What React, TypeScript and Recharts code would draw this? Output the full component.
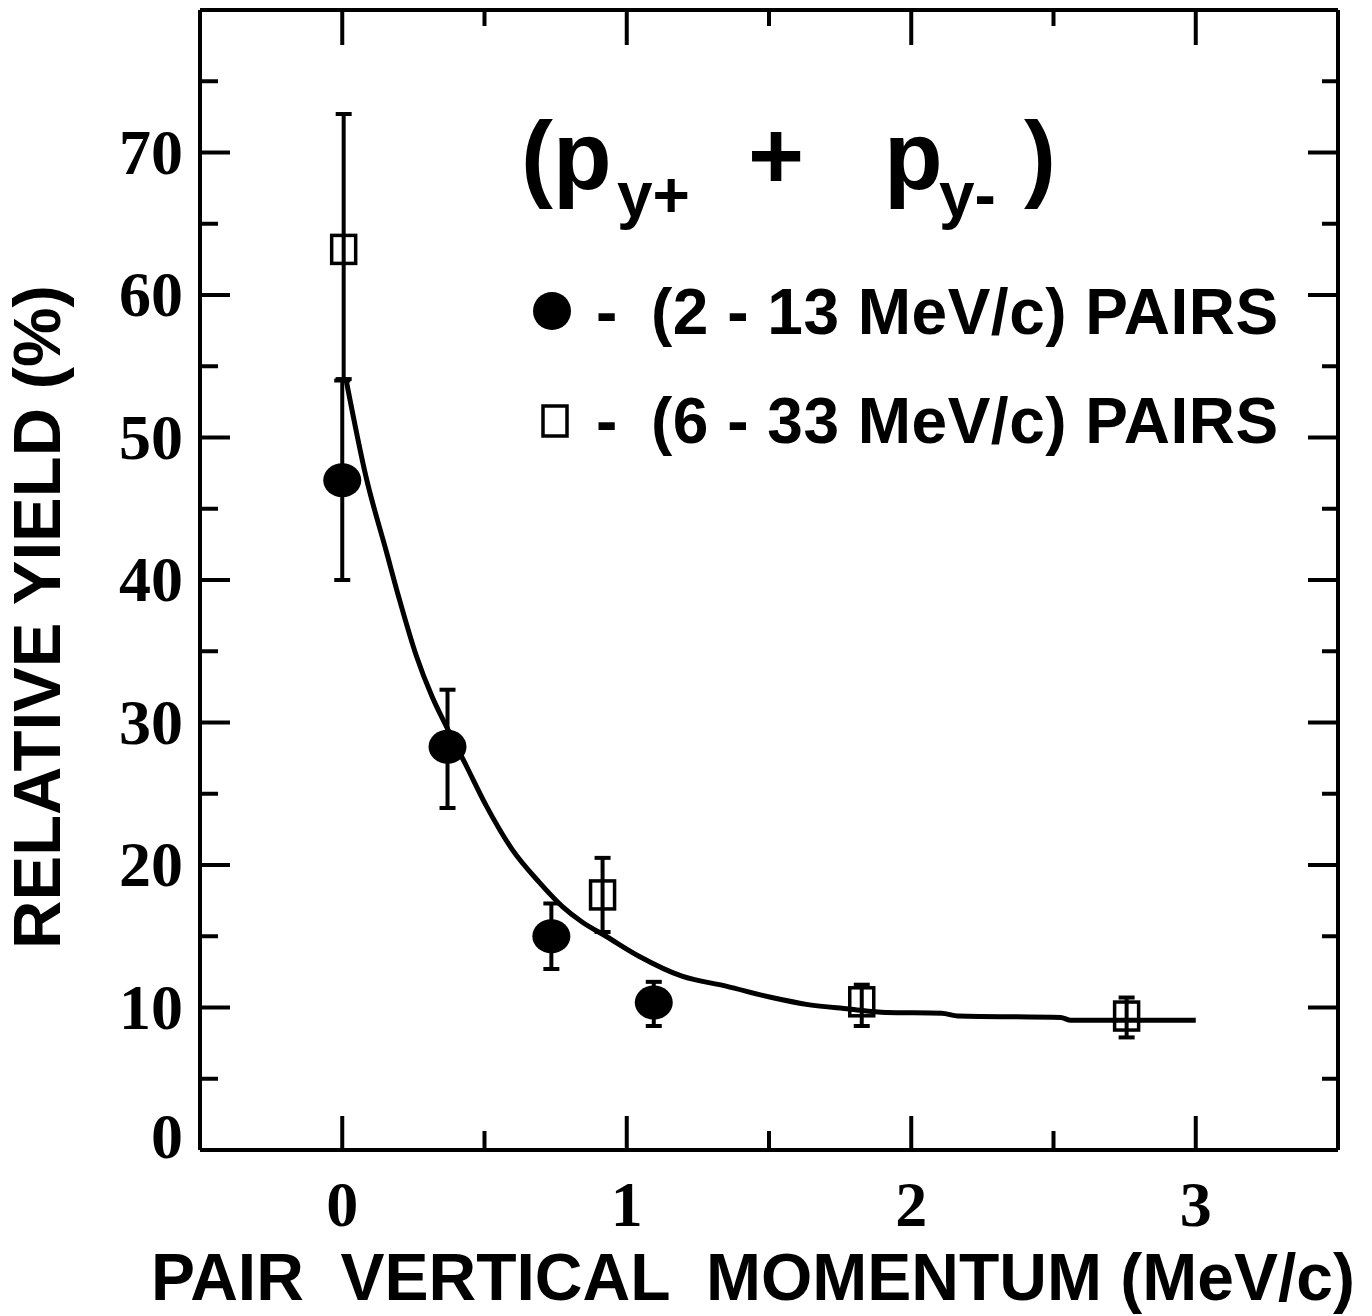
import React from "react";
import { ComposedChart, Line, Scatter, XAxis, YAxis, ErrorBar } from "recharts";

// filled circles: (2 - 13 MeV/c) pairs
const circleX = [0.0, 0.37, 0.735, 1.095];
const circleY = [47.0, 28.3, 15.0, 10.35];
const circleLo = [40.0, 24.0, 12.7, 8.7];
const circleHi = [54.0, 32.3, 17.3, 11.8];

// open squares: (6 - 33 MeV/c) pairs
const squareX = [0.005, 0.915, 1.826, 2.757];
const squareY = [63.2, 17.9, 10.4, 9.4];
const squareLo = [54.1, 15.3, 8.7, 7.9];
const squareHi = [72.7, 20.5, 11.6, 10.7];

// fitted curve
const curveX = [
  0.014, 0.084, 0.155, 0.2, 0.26, 0.316, 0.369, 0.435, 0.505, 0.597, 0.692, 0.773, 0.843,
  0.927, 1.043, 1.194, 1.349, 1.51, 1.637, 1.781, 1.911, 2.107, 2.164, 2.525, 2.561, 3.0,
];
const curveY = [
  54.0, 47.2, 42.0, 38.7, 34.7, 31.8, 29.6, 27.0, 24.2, 21.1, 18.8, 17.1, 16.0,
  15.0, 13.6, 12.2, 11.5, 10.7, 10.2, 9.9, 9.65, 9.6, 9.4, 9.3, 9.1, 9.1,
];

const xTicks = [0, 0.5, 1, 1.5, 2, 2.5, 3];
const yTicks = [0, 5, 10, 15, 20, 25, 30, 35, 40, 45, 50, 55, 60, 65, 70, 75];

const circles = circleX.map((x, i) => ({
  x,
  y: circleY[i],
  err: [circleY[i] - circleLo[i], circleHi[i] - circleY[i]],
}));
const squares = squareX.map((x, i) => ({
  x,
  y: squareY[i],
  err: [squareY[i] - squareLo[i], squareHi[i] - squareY[i]],
}));
const curve = curveX.map((x, i) => ({ x, y: curveY[i] }));

const serif = "'Liberation Serif', 'Times New Roman', serif";
const sans = "'Liberation Sans', Arial, Helvetica, sans-serif";

const LeftTick = (props: any) => {
  const { x, y, payload } = props;
  const v = payload.value;
  const major = v % 10 === 0;
  return (
    <g>
      {v > 0 && (
        <line x1={x} x2={x + (major ? 30 : 18)} y1={y} y2={y} stroke="#000" strokeWidth={4} />
      )}
      {major && (
        <text x={x - 17} y={y + (v === 0 ? 8 : 21)} textAnchor="end" fontFamily={serif}
          fontWeight="bold" fontSize={64} fill="#000">
          {v}
        </text>
      )}
    </g>
  );
};

const RightTick = (props: any) => {
  const { x, y, payload } = props;
  const v = payload.value;
  if (v === 0) return <g />;
  const major = v % 10 === 0;
  return <line x1={x} x2={x - (major ? 30 : 16)} y1={y} y2={y} stroke="#000" strokeWidth={4} />;
};

const BottomTick = (props: any) => {
  const { x, y, payload } = props;
  const v = payload.value;
  const major = Number.isInteger(v);
  return (
    <g>
      <line x1={x} x2={x} y1={y} y2={y - (major ? 34 : 19)} stroke="#000" strokeWidth={4} />
      {major && (
        <text x={x} y={y + 76} textAnchor="middle" fontFamily={serif} fontWeight="bold"
          fontSize={64} fill="#000">
          {v}
        </text>
      )}
    </g>
  );
};

const TopTick = (props: any) => {
  const { x, y, payload } = props;
  const major = Number.isInteger(payload.value);
  return <line x1={x} x2={x} y1={y} y2={y + (major ? 35 : 16)} stroke="#000" strokeWidth={4} />;
};

const Dot = (p: any) => <ellipse cx={p.cx} cy={p.cy} rx={19} ry={17} fill="#000" />;
const Box = (p: any) => (
  <rect x={p.cx - 12} y={p.cy - 14} width={24} height={28} fill="none" stroke="#000" strokeWidth={3.5} />
);

export default function App() {
  return (
    <div style={{ position: "absolute", left: 0, top: 0, width: 1372, height: 1316, background: "#fff" }}>
      <ComposedChart width={1372} height={1316} margin={{ top: 0, right: 24, bottom: 136, left: 140 }}>
        <XAxis dataKey="x" type="number" domain={[-0.5, 3.5]} ticks={xTicks} allowDataOverflow
          height={30} tickSize={0} tickMargin={0} tickLine={false} tick={<BottomTick />}
          axisLine={{ stroke: "#000", strokeWidth: 4 }} />
        <XAxis xAxisId="top" orientation="top" dataKey="x" type="number" domain={[-0.5, 3.5]}
          ticks={xTicks} allowDataOverflow height={10} tickSize={0} tickMargin={0} tickLine={false}
          tick={<TopTick />} axisLine={{ stroke: "#000", strokeWidth: 4 }} />
        <YAxis dataKey="y" type="number" domain={[0, 80]} ticks={yTicks} allowDataOverflow width={60}
          tickSize={0} tickMargin={0} tickLine={false} tick={<LeftTick />}
          axisLine={{ stroke: "#000", strokeWidth: 4 }} />
        <YAxis yAxisId="right" orientation="right" dataKey="y" type="number" domain={[0, 80]}
          ticks={yTicks} allowDataOverflow width={10} tickSize={0} tickMargin={0} tickLine={false}
          tick={<RightTick />} axisLine={{ stroke: "#000", strokeWidth: 4 }} />
        <Line data={curve} dataKey="y" type="monotone" stroke="#000" strokeWidth={5} dot={false}
          activeDot={false} isAnimationActive={false} />
        <Scatter data={squares} dataKey="y" shape={<Box />} isAnimationActive={false}>
          <ErrorBar dataKey="err" direction="y" width={8} stroke="#000" strokeWidth={4} />
        </Scatter>
        <Scatter data={circles} dataKey="y" shape={<Dot />} isAnimationActive={false}>
          <ErrorBar dataKey="err" direction="y" width={8} stroke="#000" strokeWidth={4} />
        </Scatter>
      </ComposedChart>
      <svg width={1372} height={1316} style={{ position: "absolute", left: 0, top: 0, pointerEvents: "none" }}>
        <text fontFamily={sans} fontWeight="bold" fill="#000">
          <tspan x={521} y={189} fontSize={96}>(p</tspan>
          <tspan x={617} y={217} fontSize={64}>y+</tspan>
          <tspan x={748} y={189} fontSize={96}>+</tspan>
          <tspan x={884} y={189} fontSize={96}>p</tspan>
          <tspan x={939} y={217} fontSize={64}>y-</tspan>
          <tspan x={1024} y={189} fontSize={96}>)</tspan>
        </text>
        <ellipse cx={552} cy={311} rx={19} ry={19} fill="#000" />
        <rect x={543} y={406} width={24} height={30} fill="none" stroke="#000" strokeWidth={3.5} />
        <g fontFamily={sans} fontWeight="bold" fontSize={64} fill="#000">
          <text x={596} y={334}>-</text>
          <text x={651} y={334} letterSpacing={0.5}>(2 - 13 MeV/c) PAIRS</text>
          <text x={596} y={443}>-</text>
          <text x={651} y={443} letterSpacing={0.5}>(6 - 33 MeV/c) PAIRS</text>
        </g>
        <text transform="rotate(-90)" x={-617} y={60} textAnchor="middle" fontFamily={sans}
          fontWeight="bold" fontSize={67} fill="#000">
          RELATIVE YIELD (%)
        </text>
        <text x={753} y={1300} textAnchor="middle" fontFamily={sans} fontWeight="bold" fontSize={66}
          fill="#000" style={{ whiteSpace: "pre" }}>
          {"PAIR  VERTICAL  MOMENTUM (MeV/c)"}
        </text>
      </svg>
    </div>
  );
}
